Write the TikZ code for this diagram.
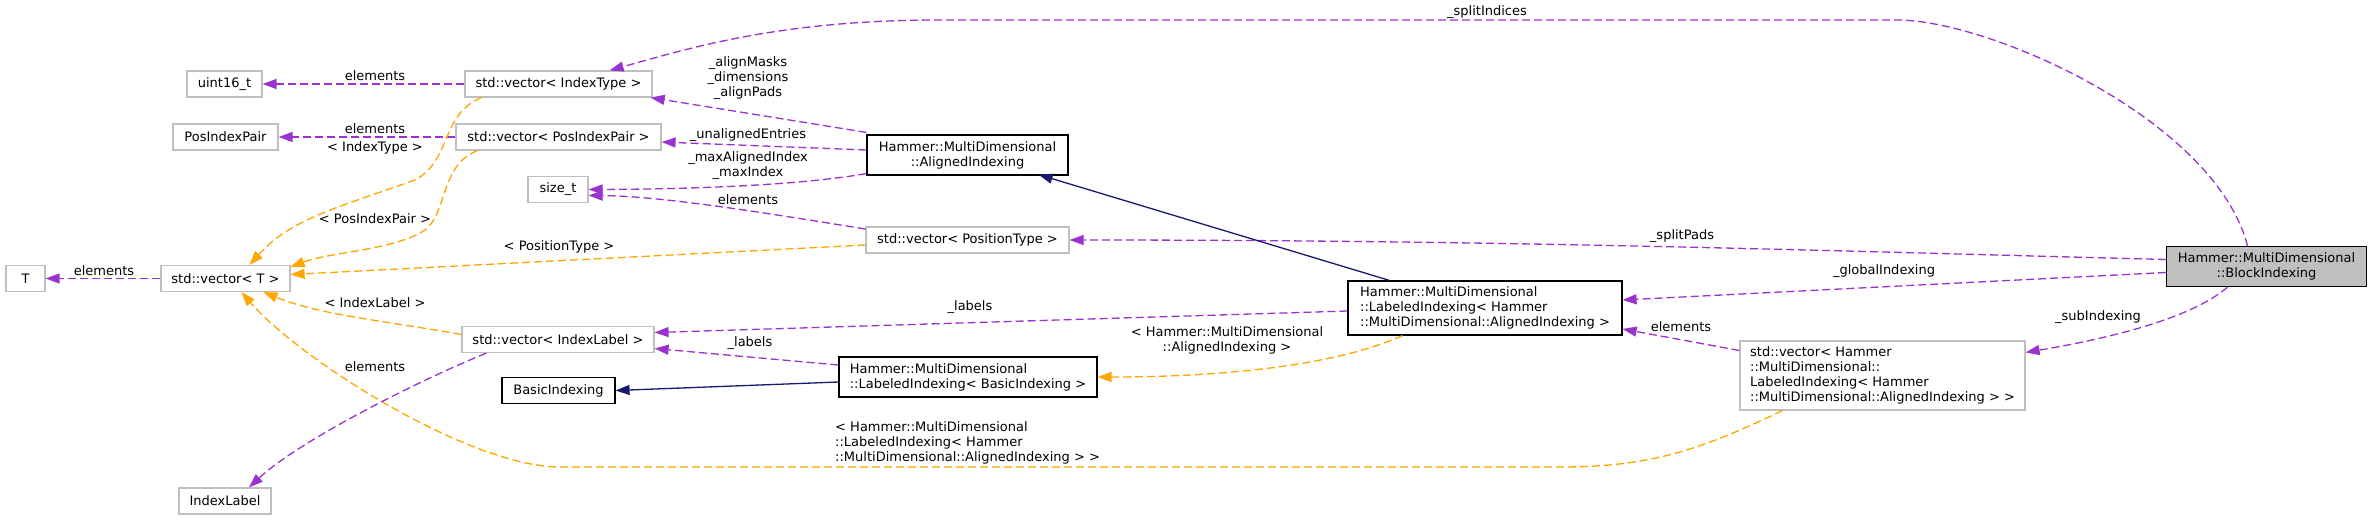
\documentclass[tikz,border=0pt]{standalone}
\usepackage{fontspec}
\setmainfont{DejaVu Sans}
\usetikzlibrary{arrows.meta,calc}
\definecolor{purp}{HTML}{9A32CD}
\definecolor{orng}{HTML}{FFA500}
\definecolor{navyb}{HTML}{191970}
\definecolor{gbord}{HTML}{BFBFBF}
\begin{document}
\begin{tikzpicture}[x=1pt,y=-1pt,
  font=\fontsize{13}{15}\selectfont,
  box/.style={draw=gbord, line width=1.2pt, inner sep=0pt, minimum height=26pt, anchor=center},
  dbox/.style={box, draw=black},
  use/.style={purp, line width=1.3pt, dash pattern=on 8pt off 4pt, -{Triangle[length=14pt,width=10pt]}},
  tmpl/.style={orng, line width=1.3pt, dash pattern=on 8pt off 4pt, -{Triangle[length=14pt,width=10pt]}},
  inh/.style={navyb, line width=1.3pt, -{Triangle[length=14pt,width=10pt]}},
  lbl/.style={inner sep=0pt, align=center, text=black}]
\useasboundingbox (0,0) rectangle (2373,520);
\fill[white] (0,0) rectangle (2373,520);

% nodes
\node[box, minimum width=75pt] (u16) at (224.5,84) {uint16\_t};
\node[box, minimum width=187pt] (vIT) at (558.5,84) {std::vector< IndexType >};
\node[box, minimum width=105pt] (PIP) at (225.5,137) {PosIndexPair};
\node[box, minimum width=205pt] (vPIP) at (558.5,137) {std::vector< PosIndexPair >};
\node[box, minimum width=60pt] (szt) at (558,189.5) {size\_t};
\node[box, minimum width=39pt] (T) at (25.5,278.5) {T};
\node[box, minimum width=129pt] (vT) at (225.5,278.5) {std::vector< T >};
\node[box, minimum width=192pt] (vIL) at (558,339.5) {std::vector< IndexLabel >};
\node[dbox, minimum width=113pt] (BIx) at (558.5,390.5) {BasicIndexing};
\node[box, minimum width=92pt] (IL) at (225,501) {IndexLabel};
\node[dbox, minimum width=201pt, minimum height=40pt, align=center] (AI) at (967.5,155) {Hammer::MultiDimensional\\::AlignedIndexing};
\node[box, minimum width=203pt] (vPT) at (967.5,240) {std::vector< PositionType >};
\node[dbox, minimum width=258pt, minimum height=40pt, align=left] (LIB) at (968,377) {Hammer::MultiDimensional\\::LabeledIndexing< BasicIndexing >};
\node[dbox, minimum width=274pt, minimum height=54pt, align=left] (LIA) at (1485,308) {Hammer::MultiDimensional\\::LabeledIndexing< Hammer\\::MultiDimensional::AlignedIndexing >};
\node[dbox, fill=gbord, minimum width=200pt, minimum height=40pt, align=center] (BI) at (2266.5,266.5) {Hammer::MultiDimensional\\::BlockIndexing};
\node[box, minimum width=285pt, minimum height=69pt, align=left] (vH) at (1882.5,375.5) {std::vector< Hammer\\::MultiDimensional::\\LabeledIndexing< Hammer\\::MultiDimensional::AlignedIndexing > >};

% edges from BlockIndexing
\draw[use] ($(BI.north)+(-19,0)$) .. controls (2215,120) and (1990,20) .. (1897,20) -- (940,20) .. controls (780,20) and (690,48) .. ($(vIT.north east)+(-43,0)$);
\node[lbl] (l1) at (1487,12) {\_splitIndices};
\draw[use] ($(BI.west)+(0,-7)$) .. controls (1800,250) and (1500,240) .. (vPT.east);
\node[lbl] (l2) at (1682,236) {\_splitPads};
\draw[use] ($(BI.west)+(0,6)$) -- ($(LIA.east)+(0,-8)$);
\node[lbl] (l3) at (1884,271) {\_globalIndexing};
\draw[use] ($(BI.south)+(-39,0)$) .. controls (2190,320) and (2100,340) .. ($(vH.north east)+(0,12)$);
\node[lbl] (l4) at (2098,317) {\_subIndexing};

% vector<Hammer...>
\draw[use] ($(vH.west)+(0,-25)$) -- ($(LIA.east)+(0,21)$);
\node[lbl] (l5) at (1681,327) {elements};
\draw[tmpl] ($(vH.south west)+(43,0)$) .. controls (1700,450) and (1650,467) .. (1560,467) -- (560,467) .. controls (470,467) and (300,360) .. ($(vT.south)+(16,0)$);
\node[lbl, align=left, anchor=west] (l6) at (835,443) {< Hammer::MultiDimensional\\::LabeledIndexing< Hammer\\::MultiDimensional::AlignedIndexing > >};

% LabeledIndexing<Aligned>
\draw[tmpl] ($(LIA.south west)+(55,0)$) .. controls (1330,368) and (1210,377) .. (LIB.east);
\node[lbl] (l7) at (1227,340) {< Hammer::MultiDimensional\\::AlignedIndexing >};
\draw[inh] ($(LIA.north west)+(42,0)$) -- ($(AI.south east)+(-30,-1)$);
\draw[use] ($(LIA.west)+(0,3)$) -- ($(vIL.east)+(0,-7)$);
\node[lbl] (l8) at (970,307) {\_labels};

% LabeledIndexing<Basic>
\draw[inh] ($(LIB.west)+(0,5)$) -- (BIx.east);
\draw[use] ($(LIB.west)+(0,-12)$) -- ($(vIL.east)+(0,9)$);
\node[lbl] (l9) at (750,343) {\_labels};

% AlignedIndexing
\draw[use] ($(AI.north west)+(0,-2)$) -- ($(vIT.south east)+(-2,0)$);
\node[lbl] (l10) at (748,78) {\_alignMasks\\\_dimensions\\\_alignPads};
\draw[use] ($(AI.west)+(0,-5)$) -- ($(vPIP.east)+(0,5)$);
\node[lbl] (l11) at (748,135) {\_unalignedEntries};
\draw[use] ($(AI.south west)+(0,-2)$) .. controls (800,185) and (700,189) .. (szt.east);
\node[lbl] (l12) at (748,166) {\_maxAlignedIndex\\\_maxIndex};

% vector<PositionType>
\draw[use] ($(vPT.west)+(0,-11)$) .. controls (760,212) and (660,196) .. ($(szt.east)+(0,6)$);
\node[lbl] (l13) at (748,200) {elements};
\draw[tmpl] ($(vPT.west)+(0,5)$) -- ($(vT.east)+(0,-4)$);
\node[lbl] (l14) at (559,247) {< PositionType >};

% vector<IndexType>, vector<PosIndexPair>
\draw[use] (vIT.west) -- (u16.east);
\node[lbl] (l15) at (375,76) {elements};
\draw[use] (vPIP.west) -- (PIP.east);
\node[lbl] (l16) at (375,129) {elements};
\draw[tmpl] ($(vIT.south west)+(17,0)$) .. controls (440,115) and (452,160) .. (415,180) .. controls (330,210) and (290,220) .. ($(vT.north)+(24,0)$);
\node[lbl] (l17) at (375,148) {< IndexType >};
\draw[tmpl] ($(vPIP.south west)+(22,0)$) .. controls (440,165) and (448,212) .. (425,230) .. controls (395,250) and (330,252) .. ($(vT.north east)+(0,2)$);
\node[lbl] (l18) at (375,219) {< PosIndexPair >};

% vector<T>
\draw[use] (vT.west) -- (T.east);
\node[lbl] (l19) at (104,271) {elements};

% vector<IndexLabel>
\draw[tmpl] ($(vIL.west)+(0,-5)$) .. controls (380,320) and (320,315) .. ($(vT.south)+(38,0)$);
\node[lbl] (l20) at (375,303) {< IndexLabel >};
\draw[use] ($(vIL.south west)+(25,0)$) .. controls (420,380) and (300,440) .. ($(IL.north)+(24,0)$);
\node[lbl] (l21) at (375,367) {elements};
\end{tikzpicture}
\end{document}
